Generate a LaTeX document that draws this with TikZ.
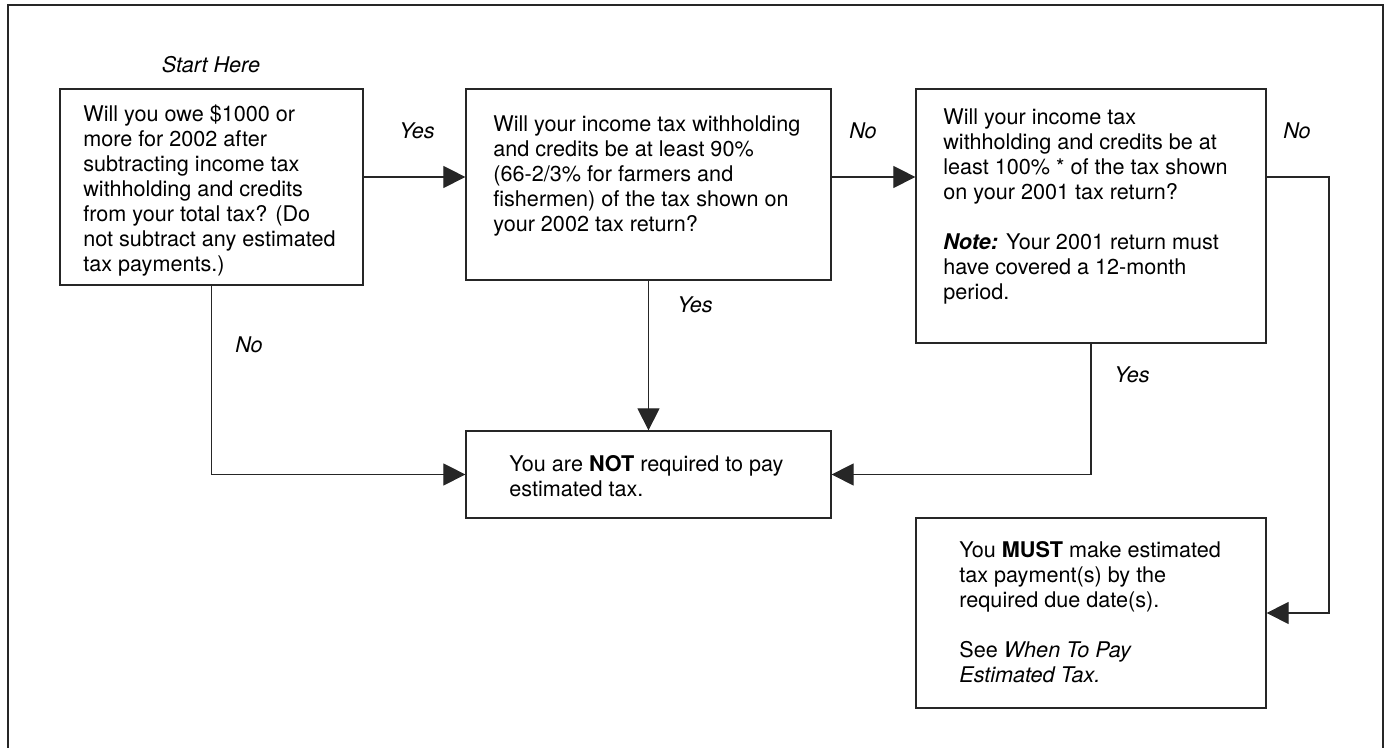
\documentclass[tikz,border=0pt]{standalone}
\usepackage{fontspec}
\setmainfont{TeX Gyre Heros}
\usetikzlibrary{arrows.meta}
\def\chartfont{\fontsize{12.3}{14.23}\selectfont}
\begin{document}
\begin{tikzpicture}[
  every node/.append style={font=\chartfont},
  box/.style={draw=black!85, line width=0.7pt, inner sep=0pt},
  txt/.style={anchor=north west, align=left, inner sep=0pt},
  lbl/.style={anchor=base, inner sep=0pt, font=\chartfont\itshape},
  arr/.style={draw=black!85, line width=0.6pt, -{Triangle[length=0.44cm,width=0.44cm]}}]
% Page size and the open frame
\useasboundingbox (0,0) rectangle (27.7,14.96);
\draw[black!85, line width=0.7pt] (0.16,0) -- (0.16,14.86) -- (27.66,14.86) -- (27.66,0);

% The boxes
\node[box, minimum width=6.06cm, minimum height=3.92cm] (owe) at (4.23,11.22) {};
\node[box, minimum width=7.3cm, minimum height=3.82cm] (ninety) at (12.97,11.27) {};
\node[box, minimum width=7.0cm, minimum height=5.08cm] (hundred) at (21.82,10.64) {};
\node[box, minimum width=7.3cm, minimum height=1.74cm] (notreq) at (12.97,5.47) {};
\node[box, minimum width=7.0cm, minimum height=3.8cm] (must) at (21.82,2.7) {};

% Texts in the boxes
\node[txt] (oweText) at (1.66,12.87) {Will you owe \$1000 or\\more for 2002 after\\subtracting income tax\\withholding and credits\\from your total tax? (Do\\not subtract any estimated\\tax payments.)};
\node[txt] (ninetyText) at (9.86,12.66) {Will your income tax withholding\\and credits be at least 90\%\\(66-2/3\% for farmers and\\fishermen) of the tax shown on\\your 2002 tax return?};
\node[txt] (hundredText) at (18.86,12.79) {Will your income tax\\withholding and credits be at\\least 100\% * of the tax shown\\on your 2001 tax return?\\[14.23pt]\textbf{\textit{Note:}} Your 2001 return must\\have covered a 12-month\\period.};
\node[txt] (notreqText) at (10.18,5.85) {You are \textbf{NOT} required to pay\\estimated tax.};
\node[txt] (mustText) at (19.18,4.13) {You \textbf{MUST} make estimated\\tax payment(s) by the\\required due date(s).\\[14.23pt]See \textit{When To Pay}\\\textit{Estimated Tax.}};

% Labels
\node[lbl] (start) at (4.22,13.5) {Start Here};
\node[lbl] (yesOwe) at (8.34,12.18) {Yes};
\node[lbl] (noNinety) at (17.26,12.18) {No};
\node[lbl] (noHundred) at (25.94,12.18) {No};
\node[lbl] (noOwe) at (4.98,7.9) {No};
\node[lbl] (yesNinety) at (13.9,8.7) {Yes};
\node[lbl] (yesHundred) at (22.64,7.3) {Yes};

% Connectors
\coordinate (row) at (0,11.42);
\coordinate (bend) at (26.58,11.42);
\draw[arr] (owe.east |- row) -- (ninety.west |- row);
\draw[arr] (ninety.east |- row) -- (hundred.west |- row);
\draw[arr] (hundred.east |- row) -- (bend) |- (must.east);
\draw[arr] (owe.south) |- (notreq.west);
\draw[arr] (ninety.south) -- (notreq.north);
\draw[arr] (hundred.south) |- (notreq.east);
\end{tikzpicture}
\end{document}
